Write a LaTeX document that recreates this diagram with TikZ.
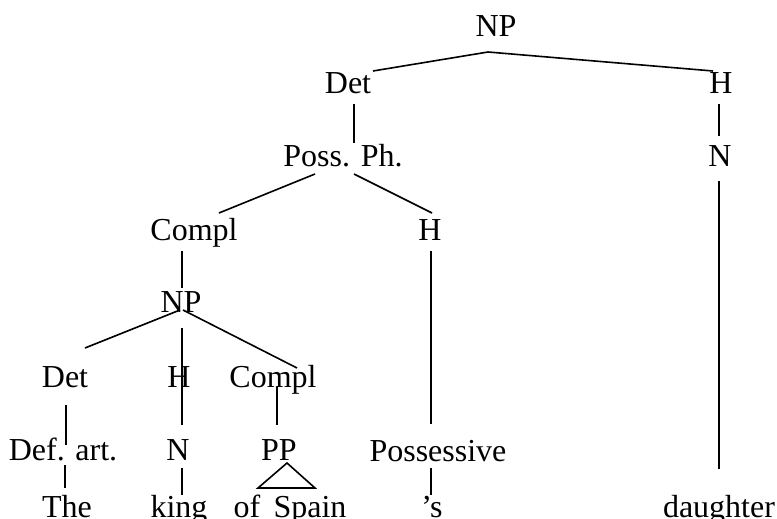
\documentclass[tikz,border=0pt]{standalone}
\usepackage{fontspec}
\setmainfont{Liberation Serif}
\begin{document}
\begin{tikzpicture}[x=1pt,y=-1pt,
  lbl/.style={anchor=base,inner sep=0pt,font=\fontsize{32}{32}\selectfont},
  edge/.style={line width=1.6pt,line cap=butt}]
\useasboundingbox (0,0) rectangle (777,519);
% labels
\node[lbl] (np1) at (496,37) {NP};
\node[lbl] (det1) at (348,93) {Det};
\node[lbl] (h1) at (721,93) {H};
\node[lbl] (poss) at (343,166) {Poss. Ph.};
\node[lbl] (n1) at (720,166) {N};
\node[lbl] (compl1) at (194,240) {Compl};
\node[lbl] (h2) at (430,240) {H};
\node[lbl] (np2) at (181,312) {NP};
\node[lbl] (det2) at (65,387) {Det};
\node[lbl] (h3) at (179,387) {H};
\node[lbl] (compl2) at (273,387) {Compl};
\node[lbl] (defart) at (63,460) {Def. art.};
\node[lbl] (n2) at (178,460) {N};
\node[lbl] (pp) at (279,460) {PP};
\node[lbl] (possessive) at (438,461) {Possessive};
\node[lbl] (the) at (67,517) {The};
\node[lbl] (king) at (179,517) {king};
\node[lbl] (ofspain) at (290,517) {of\, Spain};
\node[lbl] (apos) at (432,517) {’s};
\node[lbl] (daughter) at (719,517) {daughter};
% endpoints
\coordinate (np1b) at (488,52);
\coordinate (det1t) at (373,71);
\coordinate (h1t) at (713,71);
\coordinate (det1b) at (354,104);
\coordinate (posst) at (354,143);
\coordinate (h1b) at (719,104);
\coordinate (n1t) at (719,136);
\coordinate (n1b) at (719,181);
\coordinate (daut) at (719,469);
\coordinate (possbl) at (315,174);
\coordinate (possbr) at (354,174);
\coordinate (compl1t) at (219,213);
\coordinate (h2t) at (432,213);
\coordinate (compl1b) at (182,251);
\coordinate (np2t) at (182,288);
\coordinate (h2b) at (431,251);
\coordinate (posst2) at (431,424);
\coordinate (np2bl) at (180,310);
\coordinate (np2br) at (183,310);
\coordinate (det2t) at (85,348);
\coordinate (compl2t) at (297,368);
\coordinate (np2bm) at (182,328);
\coordinate (h3b) at (182,425);
\coordinate (det2b) at (66,405);
\coordinate (defartt) at (66,445);
\coordinate (compl2b) at (277,387);
\coordinate (ppt) at (277,425);
\coordinate (defartb) at (65,465);
\coordinate (thet) at (65,488);
\coordinate (n2b) at (182,468);
\coordinate (kingt) at (182,495);
\coordinate (tria) at (287,463);
\coordinate (tril) at (258,488);
\coordinate (trir) at (315,488);
\coordinate (possessiveb) at (431,468);
\coordinate (apost) at (431,495);
% connectors
\draw[edge] (det1t) -- (np1b) -- (h1t);
\draw[edge] (det1b) -- (posst);
\draw[edge] (h1b) -- (n1t);
\draw[edge] (n1b) -- (daut);
\draw[edge] (possbl) -- (compl1t);
\draw[edge] (possbr) -- (h2t);
\draw[edge] (compl1b) -- (np2t);
\draw[edge] (h2b) -- (posst2);
\draw[edge] (np2bl) -- (det2t);
\draw[edge] (np2br) -- (compl2t);
\draw[edge] (np2bm) -- (h3b);
\draw[edge] (det2b) -- (defartt);
\draw[edge] (compl2b) -- (ppt);
\draw[edge] (defartb) -- (thet);
\draw[edge] (n2b) -- (kingt);
\draw[edge,line join=miter] (tria) -- (tril) -- (trir) -- cycle;
\draw[edge] (possessiveb) -- (apost);
\end{tikzpicture}
\end{document}
